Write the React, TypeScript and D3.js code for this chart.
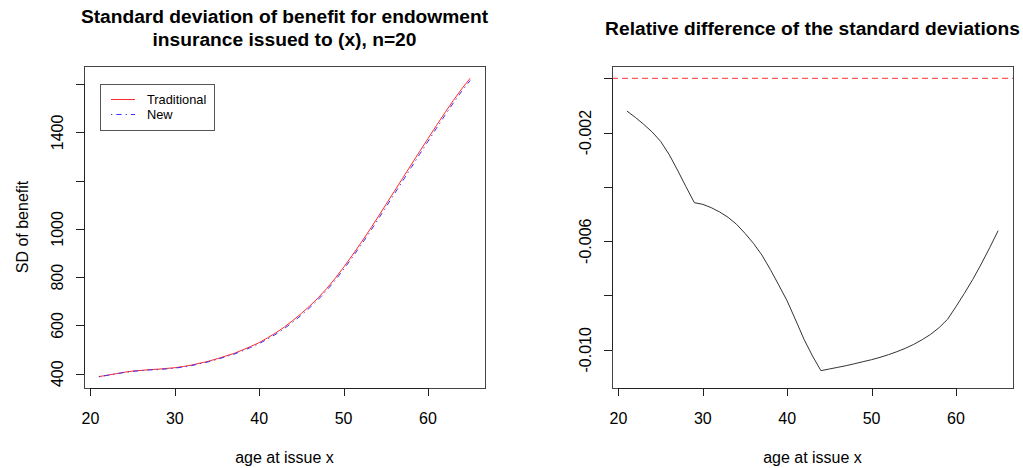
import React from "react";
import * as d3 from "d3";

const ages = [21, 22, 23, 24, 25, 26, 27, 28, 29, 30, 31, 32, 33, 34, 35, 36, 37, 38, 39, 40,
  41, 42, 43, 44, 45, 46, 47, 48, 49, 50, 51, 52, 53, 54, 55, 56, 57, 58, 59, 60,
  61, 62, 63, 64, 65];

const traditionalSD = [388, 394, 400, 406, 411, 414, 417, 419, 422, 425, 430, 436, 444, 452, 462, 473, 484, 498, 513, 529,
  549, 570, 594, 621, 650, 681, 715, 753, 795, 841, 889, 939, 991, 1045, 1100, 1155, 1210, 1265, 1320, 1374,
  1428, 1481, 1532, 1580, 1624];

const newSD = [387.53, 393.43, 399.32, 405.2, 410.05, 412.84, 415.59, 417.33, 420.07, 423.03, 427.95, 433.85, 441.73, 449.57, 459.36, 470.12, 480.85, 494.49, 509.09, 524.66,
  544.11, 564.52, 587.92, 614.31, 643.04, 673.75, 707.43, 745.09, 786.7, 832.28, 879.86, 929.44, 981.02, 1034.61, 1089.22, 1143.88, 1198.59, 1253.38, 1308.28, 1362.44,
  1416.69, 1470.03, 1521.52, 1570.14, 1614.89];

const relDiff = [-0.001204, -0.001438, -0.001696, -0.001978, -0.002322, -0.0028, -0.003377, -0.003991, -0.004581, -0.004642,
  -0.004765, -0.004925, -0.005121, -0.005378, -0.00571, -0.006079, -0.006508, -0.00704, -0.007613, -0.008202,
  -0.008902, -0.009615, -0.010228, -0.010769, -0.010707, -0.010646, -0.010584, -0.010511, -0.010437, -0.010364,
  -0.010278, -0.01018, -0.010069, -0.009946, -0.009799, -0.009627, -0.009431, -0.009185, -0.008878, -0.008411,
  -0.00792, -0.007404, -0.00684, -0.006238, -0.005612];

const xTicks = [20, 30, 40, 50, 60];
const leftYTicks = [400, 600, 800, 1000, 1200, 1400, 1600];
const leftYLabels = ["400", "600", "800", "1000", "", "1400", ""];
const rightYTicks = [0, -0.002, -0.004, -0.006, -0.008, -0.01];
const rightYLabels = ["", "-0.002", "", "-0.006", "", "-0.010"];

const leftTitle = ["Standard deviation of benefit for endowment", "insurance issued to (x), n=20"];
const rightTitle = "Relative difference of the standard deviations";
const xLabel = "age at issue x";
const leftYLabel = "SD of benefit";
const legendLabels = ["Traditional", "New"];

const FONT = "Liberation Sans, Arial, Helvetica, sans-serif";

export default function App() {
  const W = 1023, H = 468;
  const top = 66, bottom = 388;
  const L = { x0: 84, x1: 485 };
  const R = { x0: 612, x1: 1013 };
  const xDomain: [number, number] = [19.24, 66.76];

  const xL = d3.scaleLinear().domain(xDomain).range([L.x0, L.x1]);
  const xR = d3.scaleLinear().domain(xDomain).range([R.x0, R.x1]);
  const yL = d3.scaleLinear().domain([341, 1675]).range([bottom, top]);
  const yR = d3.scaleLinear().domain([-0.011407, 0.000453]).range([bottom, top]);

  const lineTrad = d3.line<number>().x((_, i) => xL(ages[i])).y((d) => yL(d));
  const lineRel = d3.line<number>().x((_, i) => xR(ages[i])).y((d) => yR(d));

  const axisColor = "#222";
  const tickLen = 8;

  const xAxis = (x: d3.ScaleLinear<number, number>) => (
    <g>
      <line x1={x(xTicks[0])} x2={x(xTicks[xTicks.length - 1])} y1={bottom + 0.5} y2={bottom + 0.5} stroke={axisColor} />
      {xTicks.map((t) => (
        <g key={t}>
          <line x1={Math.round(x(t)) + 0.5} x2={Math.round(x(t)) + 0.5} y1={bottom} y2={bottom + tickLen} stroke={axisColor} />
          <text x={x(t)} y={424} textAnchor="middle" fontSize={16} fontFamily={FONT}>{t}</text>
        </g>
      ))}
      <text x={(x.range()[0] + x.range()[1]) / 2} y={463} textAnchor="middle" fontSize={16} fontFamily={FONT}>{xLabel}</text>
    </g>
  );

  const yAxis = (y: d3.ScaleLinear<number, number>, x0: number, ticks: number[], labels: string[], labelX: number) => (
    <g>
      <line x1={x0 + 0.5} x2={x0 + 0.5} y1={y(ticks[0])} y2={y(ticks[ticks.length - 1])} stroke={axisColor} />
      {ticks.map((t, i) => (
        <g key={i}>
          <line x1={x0 - tickLen} x2={x0} y1={Math.round(y(t)) + 0.5} y2={Math.round(y(t)) + 0.5} stroke={axisColor} />
          {labels[i] && (
            <text transform={`translate(${labelX},${y(t)}) rotate(-90)`} textAnchor="middle" fontSize={16} fontFamily={FONT}>{labels[i]}</text>
          )}
        </g>
      ))}
    </g>
  );

  return (
    <div style={{ position: "fixed", left: 0, top: 0 }}>
      <svg width={W} height={H} style={{ display: "block", background: "#fff" }}>
        <rect x={0} y={0} width={W} height={H} fill="#fff" />
        {/* Left panel */}
        <text x={(L.x0 + L.x1) / 2} y={23} textAnchor="middle" fontSize={19.2} fontWeight="bold" fontFamily={FONT}>{leftTitle[0]}</text>
        <text x={(L.x0 + L.x1) / 2} y={46} textAnchor="middle" fontSize={19.2} fontWeight="bold" fontFamily={FONT}>{leftTitle[1]}</text>
        <rect x={L.x0 + 0.5} y={top + 0.5} width={L.x1 - L.x0} height={bottom - top} fill="none" stroke="#444" />
        <path d={lineTrad(traditionalSD) || ""} fill="none" stroke="#ff2a2a" strokeWidth={1} />
        <path d={lineTrad(newSD) || ""} fill="none" stroke="#3333ff" strokeWidth={1} strokeDasharray="1.3 4 5.3 4" />
        {xAxis(xL)}
        {yAxis(yL, L.x0, leftYTicks, leftYLabels, 63)}
        <text transform={`translate(28,${(top + bottom) / 2}) rotate(-90)`} textAnchor="middle" fontSize={16} fontFamily={FONT}>{leftYLabel}</text>
        {/* Legend */}
        <rect x={100.5} y={84.5} width={114} height={46} fill="#fff" stroke="#555" />
        <line x1={111} x2={135} y1={99.5} y2={99.5} stroke="#ff2a2a" />
        <line x1={111} x2={135} y1={114.5} y2={114.5} stroke="#3333ff" strokeDasharray="1.3 4 5.3 4" />
        <text x={147} y={104} fontSize={12.8} fontFamily={FONT}>{legendLabels[0]}</text>
        <text x={147} y={119} fontSize={12.8} fontFamily={FONT}>{legendLabels[1]}</text>

        {/* Right panel */}
        <text x={(R.x0 + R.x1) / 2} y={35} textAnchor="middle" fontSize={19.2} fontWeight="bold" fontFamily={FONT}>{rightTitle}</text>
        <rect x={R.x0 + 0.5} y={top + 0.5} width={R.x1 - R.x0} height={bottom - top} fill="none" stroke="#444" />
        <line x1={R.x0} x2={R.x1} y1={yR(0)} y2={yR(0)} stroke="#ff3030" strokeDasharray="6 4" />
        <path d={lineRel(relDiff) || ""} fill="none" stroke="#333" strokeWidth={1} />
        {xAxis(xR)}
        {yAxis(yR, R.x0, rightYTicks, rightYLabels, 591)}
      </svg>
    </div>
  );
}
